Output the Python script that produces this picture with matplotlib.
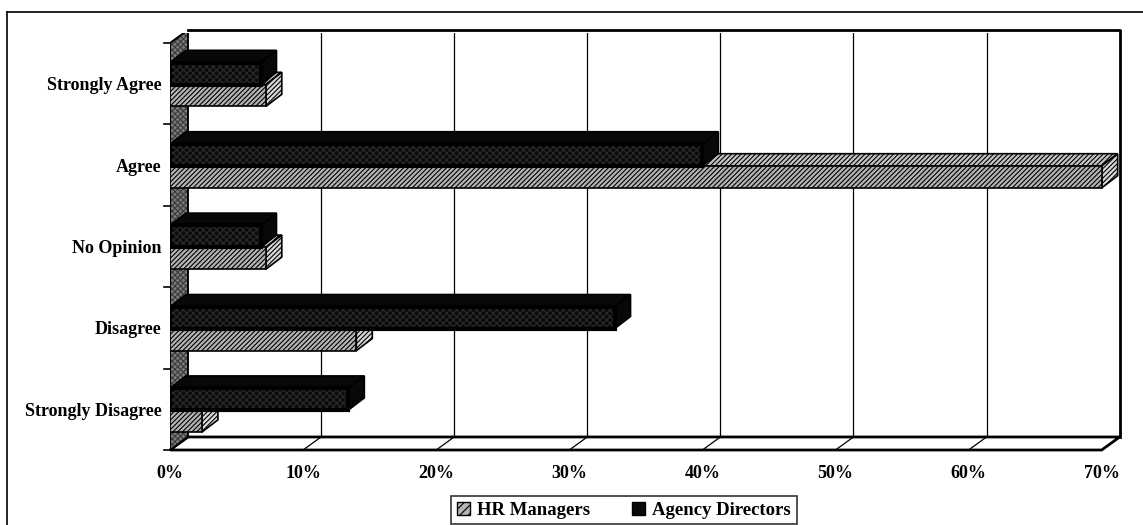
import matplotlib
matplotlib.use("Agg")
import matplotlib.pyplot as plt
from matplotlib.patches import Polygon, Patch

plt.rcParams['font.family'] = ['Liberation Serif', 'DejaVu Serif']
plt.rcParams['font.weight'] = 'bold'
plt.rcParams['hatch.linewidth'] = 0.8

# data (percent of respondents)
categories = ["Strongly Agree", "Agree", "No Opinion", "Disagree", "Strongly Disagree"]
hr_managers = [7.2, 70, 7.2, 14, 2.4]
agency_directors = [6.8, 40, 6.8, 33.4, 13.4]
xticks = [0, 10, 20, 30, 40, 50, 60, 70]
xtick_labels = ["0%", "10%", "20%", "30%", "40%", "50%", "60%", "70%"]

# fake 3d geometry
DX, DY = 1.35, -0.16      # floor / wall depth
BDX, BDY = 1.2, -0.15     # bar depth
BH = 0.27                 # bar height
XMAX = 70

fig = plt.figure(figsize=(11.43, 5.25), dpi=100)
ax = fig.add_axes([170/1143, (525-450)/525, (1124-170)/1143, (450-33)/525])
ax.set_xlim(0, (1124-170)/13.31)
ax.set_ylim(4.5, 4.5 - (450-33)/81.4)
for s in ax.spines.values():
    s.set_visible(False)

# back wall + gridlines
top_b, bot_b = -0.5 + DY, 4.5 + DY
ax.plot([DX, XMAX + DX, XMAX + DX], [top_b, top_b, bot_b], color='black', lw=2.0, clip_on=False, zorder=2)
for v in xticks[1:-1]:
    ax.plot([v + DX, v + DX], [top_b, bot_b], color='black', lw=0.9, zorder=1)

# floor
ax.add_patch(Polygon([(0, 4.5), (XMAX, 4.5), (XMAX + DX, bot_b), (DX, bot_b)],
                     closed=True, facecolor='white', edgecolor='black', lw=2.0, zorder=1.5, clip_on=False))
for v in xticks[1:-1]:
    ax.plot([v, v + DX], [4.5, bot_b], color='black', lw=0.9, zorder=1.6)

# left wall
wall = [(0, -0.5), (DX, top_b), (DX, bot_b), (0, 4.5)]
ax.add_patch(Polygon(wall, closed=True, facecolor='#7a7a7a', edgecolor='#3a3a3a',
                     hatch='xxxxxx', lw=0, zorder=1.7))
ax.add_patch(Polygon(wall, closed=True, fill=False, edgecolor='black', lw=1.4, zorder=1.8))
for k in range(6):
    ax.plot([-0.45, 0], [k - 0.5, k - 0.5], color='black', lw=1.2, clip_on=False, zorder=1.8)


def bar3d(y0, val, side, top, hatch):
    y1 = y0 + BH
    ax.add_patch(Polygon([(0, y0), (val, y0), (val + BDX, y0 + BDY), (BDX, y0 + BDY)],
                         closed=True, facecolor=top, edgecolor='black', hatch=hatch, lw=1.2, zorder=3))
    ax.add_patch(Polygon([(val, y0), (val, y1), (val + BDX, y1 + BDY), (val + BDX, y0 + BDY)],
                         closed=True, facecolor=side, edgecolor='black', hatch=hatch, lw=1.2, zorder=3))


for i, (h, a) in enumerate(zip(hr_managers, agency_directors)):
    bar3d(i + 0.01, h, '#d8d8d8', '#c4c4c4', '///////')
    ax.barh(i + 0.01, h, height=BH, left=0, align='edge', color='#b4b4b4',
            edgecolor='black', hatch='///////', lw=1.2, zorder=3)
    bar3d(i - 0.26, a, '#080808', '#080808', None)
    ax.barh(i - 0.26, a, height=BH, left=0, align='edge', color='#0a0a0a',
            edgecolor='#2c2c2c', hatch='xxxxx', lw=0, zorder=4)
    ax.barh(i - 0.26, a, height=BH, left=0, align='edge', fill=False,
            edgecolor='black', lw=3.0, zorder=4.1)

ax.set_xticks(xticks)
ax.set_xticklabels(xtick_labels, fontsize=13, fontweight='bold')
ax.set_yticks(range(len(categories)))
ax.set_yticklabels(categories, fontsize=13, fontweight='bold')
ax.tick_params(axis='x', length=0, pad=11)
ax.tick_params(axis='y', length=0, pad=6)

handles = [Patch(facecolor='#b4b4b4', edgecolor='black', hatch='////', label='HR Managers'),
           Patch(facecolor='#0a0a0a', edgecolor='black', label='Agency Directors')]
leg = fig.legend(handles=handles, loc='upper center', bbox_to_anchor=(624/1143, 1 - 496/525),
                 ncol=2, frameon=True, fancybox=False, edgecolor='black', fontsize=13.5,
                 handlelength=0.7, handleheight=0.7, handletextpad=0.4, columnspacing=2.2,
                 borderpad=0.3, borderaxespad=0)
leg.get_frame().set_linewidth(1.2)

# scan border (top and left)
fig.add_artist(plt.Line2D([7/1143, 1], [1 - 12/525, 1 - 12/525], color='black', lw=1.2))
fig.add_artist(plt.Line2D([7/1143, 7/1143], [0, 1 - 12/525], color='black', lw=1.2))

fig.savefig("out.png", dpi=100)
